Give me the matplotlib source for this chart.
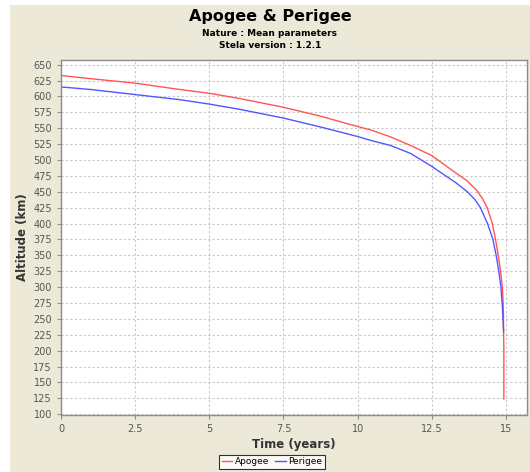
import matplotlib
matplotlib.use("Agg")
import matplotlib.pyplot as plt
from matplotlib.patches import Rectangle
from matplotlib.ticker import MultipleLocator, FuncFormatter

# values
t_apogee = [0, 1, 2.5, 4, 5, 6, 7.5, 8.75, 10, 10.43, 11.1, 11.78, 12.5,
            13.0, 13.3, 13.7, 14.0, 14.2, 14.37, 14.54, 14.65, 14.74, 14.82,
            14.88, 14.91, 14.93, 14.93]
apogee = [633, 628, 621, 611, 605, 597, 583, 569, 552.7, 547.5, 536.6, 523,
          507, 490, 480, 467, 453, 440, 425, 400, 375, 350, 325, 300, 270,
          200, 124]

t_perigee = [0, 1, 2.5, 4, 5, 6, 7.5, 8.75, 10, 10.43, 11.1, 11.78, 12.5,
             13.0, 13.3, 13.7, 13.95, 14.14, 14.38, 14.56, 14.67, 14.76,
             14.83, 14.88, 14.92]
perigee = [615, 611, 603, 595, 588, 580, 566, 552, 537, 531, 523, 510.5,
           490, 474, 464.7, 450, 438, 425, 400, 375, 350, 325, 300, 270, 230]

series_names = ["Apogee", "Perigee"]
title = "Apogee & Perigee"
subtitles = ["Nature : Mean parameters", "Stela version : 1.2.1"]

W, H = 530, 472
fig = plt.figure(figsize=(W / 100, H / 100), dpi=100)
fig.patch.set_facecolor("white")
fig.patches.append(Rectangle((10 / W, 0), 1, 1 - 5 / H, transform=fig.transFigure,
                             facecolor="#ECE9D8", edgecolor="none", zorder=-10))

ax = fig.add_axes([61 / W, 1 - 414.5 / H, (527 - 61) / W, (414.5 - 59.5) / H])
ax.set_facecolor("white")

ax.plot(t_apogee, apogee, color="#FF5555", lw=1.0, label=series_names[0])
ax.plot(t_perigee, perigee, color="#5555FF", lw=1.0, label=series_names[1])

ax.set_xlim(0, 15.71)
ax.set_ylim(99.5, 658.2)
ax.xaxis.set_major_locator(MultipleLocator(2.5))
ax.yaxis.set_major_locator(MultipleLocator(25))
ax.xaxis.set_major_formatter(FuncFormatter(lambda v, p: ("%g" % v)))
ax.grid(True, color="#C8C8C8", linestyle=(0, (2, 2)), lw=0.8)
ax.set_axisbelow(True)

for s in ax.spines.values():
    s.set_color("#8C8C8C")
    s.set_linewidth(1.0)
ax.tick_params(axis="both", colors="#8C8C8C", labelcolor="#555555",
               labelsize=7, length=3, width=0.8)

ax.set_xlabel("Time (years)", fontsize=8.5, fontweight="bold", color="#333333",
              family="DejaVu Sans", labelpad=3)
ax.set_ylabel("Altitude (km)", fontsize=8.5, fontweight="bold", color="#333333",
              family="DejaVu Sans", labelpad=3)

fig.text(270 / W, 1 - 17 / H, title, ha="center", va="center",
         fontsize=11.5, fontweight="bold", family="DejaVu Sans")
fig.text(270 / W, 1 - 33 / H, subtitles[0], ha="center", va="center",
         fontsize=6.5, fontweight="bold", family="DejaVu Sans")
fig.text(270 / W, 1 - 46 / H, subtitles[1], ha="center", va="center",
         fontsize=6.5, fontweight="bold", family="DejaVu Sans")

leg = fig.legend(loc="center", bbox_to_anchor=(272 / W, 1 - 462 / H), ncol=2,
                 fontsize=6.5, frameon=True, fancybox=False, handlelength=1.2,
                 handletextpad=0.3, columnspacing=0.6, borderpad=0.25,
                 borderaxespad=0)
leg.get_frame().set_edgecolor("black")
leg.get_frame().set_linewidth(0.8)

fig.savefig("out.png", dpi=100, facecolor=fig.get_facecolor())
